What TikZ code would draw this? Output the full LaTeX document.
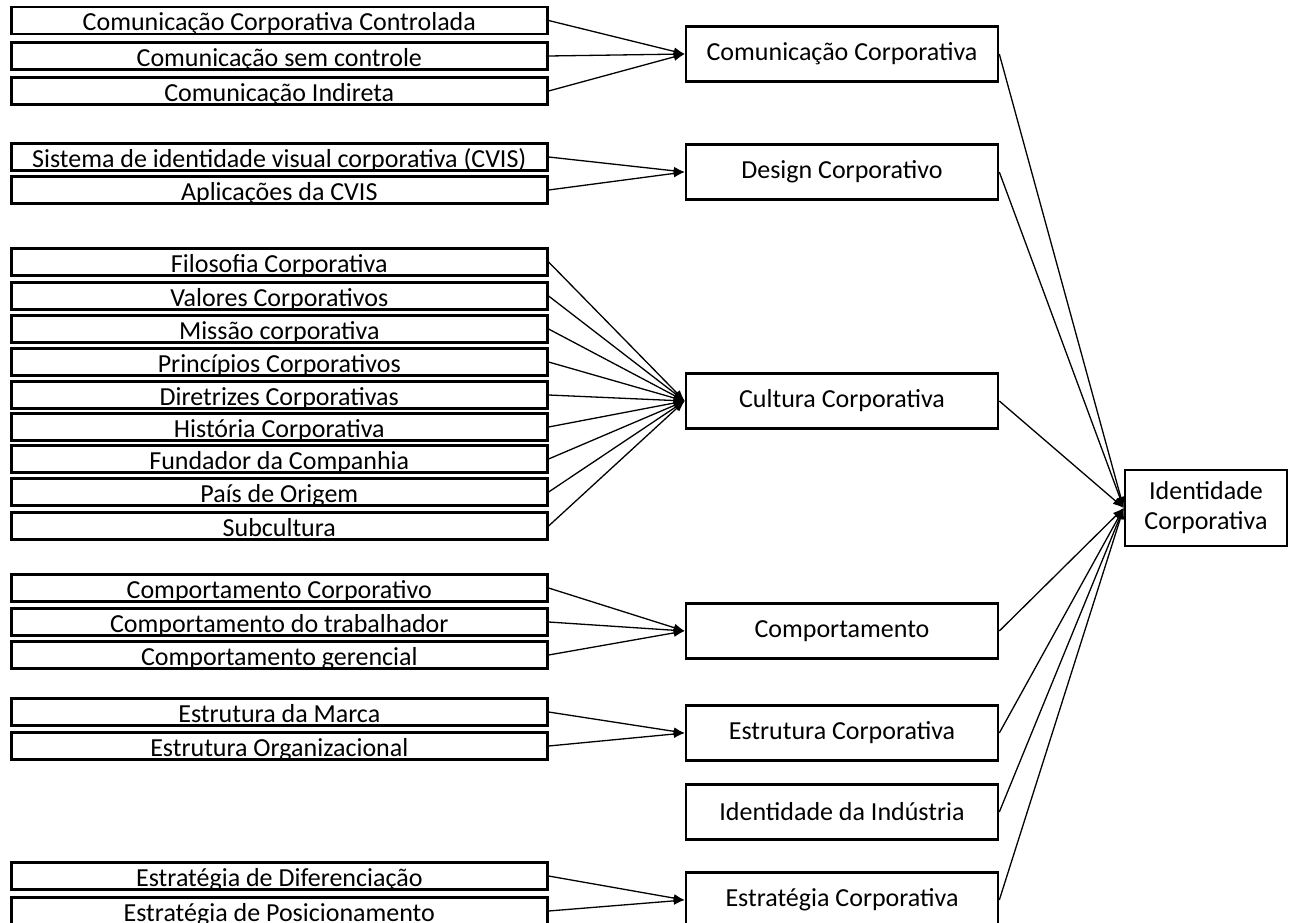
\documentclass[tikz,border=0pt]{standalone}
\usepackage{fontspec}
\setmainfont{Carlito}
\usepackage{tikz}
\usetikzlibrary{arrows.meta,positioning}

\begin{document}
\begin{tikzpicture}[x=1pt, y=-1pt,
  ar/.style={-{Latex[length=11pt, width=8pt]}, line width=1.3pt},
  item/.style={draw, line width=2.6pt, anchor=west, minimum width=536pt,
    text height=21pt, text depth=0pt, inner ysep=3pt,
    font=\fontsize{26}{30}\selectfont},
  group/.style={draw, line width=2.6pt, minimum width=312pt, minimum height=55pt,
    font=\fontsize{26}{30}\selectfont},
  core/.style={draw, line width=2.6pt, minimum width=162pt, minimum height=76pt,
    align=center, font=\fontsize{26}{30}\selectfont}]
  % canvas: the reference is cut off at the bottom edge
  \fill[white] (0,0) rectangle (1291,923);
  \path[use as bounding box, clip] (0,0) rectangle (1291,923);

  % left column: the facets
  \node[item] (cCtrl) at (10,20.5) {Comunicação Corporativa Controlada};
  \node[item] (cFree) at (10,56)   {Comunicação sem controle};
  \node[item] (cInd)  at (10,91)   {Comunicação Indireta};

  \node[item] (dSys)  at (10,157) {Sistema de identidade visual corporativa (CVIS)};
  \node[item] (dApp)  at (10,190) {Aplicações da CVIS};

  \node[item] (kPhil) at (10,262) {Filosofia Corporativa};
  \node[item] (kVal)  at (10,296) {Valores Corporativos};
  \node[item] (kMis)  at (10,329) {Missão corporativa};
  \node[item] (kPri)  at (10,362) {Princípios Corporativos};
  \node[item] (kDir)  at (10,395) {Diretrizes Corporativas};
  \node[item] (kHis)  at (10,427) {História Corporativa};
  \node[item] (kFun)  at (10,459) {Fundador da Companhia};
  \node[item] (kPais) at (10,492) {País de Origem};
  \node[item] (kSub)  at (10,526) {Subcultura};

  \node[item] (bCorp) at (10,588) {Comportamento Corporativo};
  \node[item] (bWork) at (10,622) {Comportamento do trabalhador};
  \node[item] (bMan)  at (10,655) {Comportamento gerencial};

  \node[item] (sBrand) at (10,712) {Estrutura da Marca};
  \node[item] (sOrg)   at (10,746) {Estrutura Organizacional};

  \node[item] (gDiff) at (10,876) {Estratégia de Diferenciação};
  \node[item] (gPos)  at (10,911) {Estratégia de Posicionamento};

  % middle column: the dimensions
  \node[group] (comm)   at (842,54)  {Comunicação Corporativa};
  \node[group] (design) at (842,172) {Design Corporativo};
  \node[group] (cult)   at (842,401) {Cultura Corporativa};
  \node[group] (behav)  at (842,631) {Comportamento};
  \node[group] (struct) at (842,733) {Estrutura Corporativa};
  \node[group] (indus)  at (842,812) {Identidade da Indústria};
  \node[group] (strat)  at (842,900) {Estratégia Corporativa};

  % right: the whole
  \node[core] (ident) at (1206,508) {Identidade\\Corporativa};

  % facets -> dimensions
  \draw[ar] (cCtrl.east) -- (comm.west);
  \draw[ar] (cFree.east) -- (comm.west);
  \draw[ar] (cInd.east)  -- (comm.west);
  \draw[ar] (dSys.east)  -- (design.west);
  \draw[ar] (dApp.east)  -- (design.west);
  \draw[ar] (kPhil.east) -- (cult.west);
  \draw[ar] (kVal.east)  -- (cult.west);
  \draw[ar] (kMis.east)  -- (cult.west);
  \draw[ar] (kPri.east)  -- (cult.west);
  \draw[ar] (kDir.east)  -- (cult.west);
  \draw[ar] (kHis.east)  -- (cult.west);
  \draw[ar] (kFun.east)  -- (cult.west);
  \draw[ar] (kPais.east) -- (cult.west);
  \draw[ar] (kSub.east)  -- (cult.west);
  \draw[ar] (bCorp.east) -- (behav.west);
  \draw[ar] (bWork.east) -- (behav.west);
  \draw[ar] (bMan.east)  -- (behav.west);
  \draw[ar] (sBrand.east) -- (struct.west);
  \draw[ar] (sOrg.east)   -- (struct.west);
  \draw[ar] (gDiff.east) -- (strat.west);
  \draw[ar] (gPos.east)  -- (strat.west);

  % dimensions -> identity
  \draw[ar] (comm.east)   -- (ident.west);
  \draw[ar] (design.east) -- (ident.west);
  \draw[ar] (cult.east)   -- (ident.west);
  \draw[ar] (behav.east)  -- (ident.west);
  \draw[ar] (struct.east) -- (ident.west);
  \draw[ar] (indus.east)  -- (ident.west);
  \draw[ar] (strat.east)  -- (ident.west);
\end{tikzpicture}
\end{document}
